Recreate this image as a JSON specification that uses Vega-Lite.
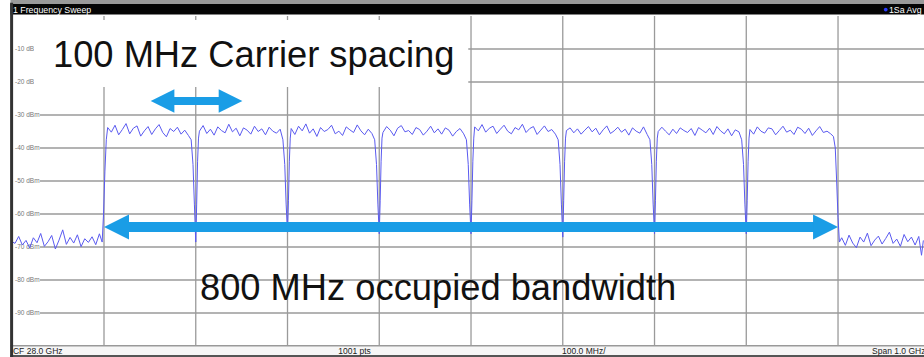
{
  "$schema": "https://vega.github.io/schema/vega-lite/v6.json",
  "autosize": {"type": "none"},
  "padding": 0,
  "width": 924,
  "height": 357,
  "background": "white",
  "config": {"view": {"stroke": null}},
  "datasets": {
    "trace": [
      {"f":27500,"p":-68.4},{"f":27503,"p":-68.9},{"f":27507,"p":-66.8},{"f":27511,"p":-69.4},{"f":27515,"p":-68.0},{"f":27519,"p":-70.3},{"f":27523,"p":-67.2},{"f":27527,"p":-68.7},{"f":27531,"p":-65.9},{"f":27535,"p":-69.8},{"f":27539,"p":-68.4},{"f":27543,"p":-66.5},{"f":27547,"p":-70.6},{"f":27551,"p":-67.9},{"f":27555,"p":-64.8},{"f":27559,"p":-69.2},{"f":27563,"p":-67.1},{"f":27567,"p":-68.8},{"f":27571,"p":-66.3},{"f":27575,"p":-69.9},{"f":27579,"p":-67.5},{"f":27583,"p":-68.6},{"f":27587,"p":-66.9},{"f":27591,"p":-69.3},{"f":27595,"p":-66.0},{"f":27598,"p":-68.5},{"f":27599.5,"p":-60},{"f":27601,"p":-47},{"f":27602.5,"p":-37.5},
      {"f":27604,"p":-33.8},{"f":27608,"p":-35.2},{"f":27612,"p":-33.1},{"f":27616,"p":-36.0},{"f":27620,"p":-34.4},{"f":27624,"p":-32.6},{"f":27628,"p":-35.7},{"f":27632,"p":-34.0},{"f":27636,"p":-33.3},{"f":27640,"p":-36.4},{"f":27644,"p":-34.8},{"f":27648,"p":-33.5},{"f":27652,"p":-35.9},{"f":27656,"p":-34.2},{"f":27660,"p":-32.9},{"f":27664,"p":-35.3},{"f":27668,"p":-36.6},{"f":27672,"p":-34.1},{"f":27676,"p":-35.0},{"f":27680,"p":-33.7},{"f":27684,"p":-35.8},{"f":27688,"p":-34.6},{"f":27692,"p":-36.2},
      {"f":27695,"p":-37.5},{"f":27697,"p":-45},{"f":27698.5,"p":-57},{"f":27700,"p":-68.5},{"f":27701,"p":-57},{"f":27702,"p":-44},{"f":27703,"p":-37},
      {"f":27704,"p":-34.9},{"f":27708,"p":-33.2},{"f":27712,"p":-35.6},{"f":27716,"p":-34.3},{"f":27720,"p":-36.1},{"f":27724,"p":-33.6},{"f":27728,"p":-34.7},{"f":27732,"p":-35.4},{"f":27736,"p":-32.8},{"f":27740,"p":-35.1},{"f":27744,"p":-34.0},{"f":27748,"p":-36.3},{"f":27752,"p":-33.9},{"f":27756,"p":-34.6},{"f":27760,"p":-35.8},{"f":27764,"p":-33.4},{"f":27768,"p":-35.0},{"f":27772,"p":-34.2},{"f":27776,"p":-36.0},{"f":27780,"p":-33.7},{"f":27784,"p":-34.9},{"f":27788,"p":-35.5},{"f":27792,"p":-34.3},
      {"f":27795,"p":-37.5},{"f":27797,"p":-45},{"f":27798.5,"p":-57},{"f":27800,"p":-65.5},{"f":27801,"p":-56},{"f":27802,"p":-44},{"f":27803,"p":-37},
      {"f":27804,"p":-34.1},{"f":27808,"p":-35.9},{"f":27812,"p":-33.4},{"f":27816,"p":-34.8},{"f":27820,"p":-32.7},{"f":27824,"p":-35.5},{"f":27828,"p":-34.2},{"f":27832,"p":-36.5},{"f":27836,"p":-33.8},{"f":27840,"p":-35.0},{"f":27844,"p":-34.4},{"f":27848,"p":-33.1},{"f":27852,"p":-35.7},{"f":27856,"p":-34.9},{"f":27860,"p":-36.2},{"f":27864,"p":-33.6},{"f":27868,"p":-34.5},{"f":27872,"p":-35.3},{"f":27876,"p":-33.0},{"f":27880,"p":-34.8},{"f":27884,"p":-36.0},{"f":27888,"p":-34.3},{"f":27892,"p":-35.6},
      {"f":27895,"p":-37.5},{"f":27897,"p":-45},{"f":27898.5,"p":-57},{"f":27900,"p":-66},{"f":27901,"p":-56},{"f":27902,"p":-44},{"f":27903,"p":-37},
      {"f":27904,"p":-35.3},{"f":27908,"p":-33.5},{"f":27912,"p":-34.6},{"f":27916,"p":-36.3},{"f":27920,"p":-34.0},{"f":27924,"p":-33.2},{"f":27928,"p":-35.1},{"f":27932,"p":-34.7},{"f":27936,"p":-35.9},{"f":27940,"p":-33.8},{"f":27944,"p":-34.4},{"f":27948,"p":-36.1},{"f":27952,"p":-34.9},{"f":27956,"p":-33.4},{"f":27960,"p":-35.4},{"f":27964,"p":-34.2},{"f":27968,"p":-35.8},{"f":27972,"p":-33.9},{"f":27976,"p":-34.6},{"f":27980,"p":-36.4},{"f":27984,"p":-35.0},{"f":27988,"p":-34.1},{"f":27992,"p":-35.7},
      {"f":27995,"p":-37.5},{"f":27997,"p":-45},{"f":27998.5,"p":-57},{"f":28000,"p":-66},{"f":28001,"p":-56},{"f":28002,"p":-44},{"f":28003,"p":-37},
      {"f":28004,"p":-33.6},{"f":28008,"p":-34.8},{"f":28012,"p":-32.9},{"f":28016,"p":-35.2},{"f":28020,"p":-34.0},{"f":28024,"p":-33.4},{"f":28028,"p":-35.6},{"f":28032,"p":-34.3},{"f":28036,"p":-33.1},{"f":28040,"p":-34.9},{"f":28044,"p":-35.7},{"f":28048,"p":-33.8},{"f":28052,"p":-34.5},{"f":28056,"p":-32.8},{"f":28060,"p":-35.3},{"f":28064,"p":-34.1},{"f":28068,"p":-33.5},{"f":28072,"p":-35.9},{"f":28076,"p":-34.6},{"f":28080,"p":-33.3},{"f":28084,"p":-35.0},{"f":28088,"p":-34.4},{"f":28092,"p":-35.8},
      {"f":28095,"p":-37.5},{"f":28097,"p":-45},{"f":28098.5,"p":-57},{"f":28100,"p":-67},{"f":28101,"p":-56},{"f":28102,"p":-44},{"f":28103,"p":-37},
      {"f":28104,"p":-34.7},{"f":28108,"p":-33.9},{"f":28112,"p":-35.4},{"f":28116,"p":-34.2},{"f":28120,"p":-35.8},{"f":28124,"p":-34.6},{"f":28128,"p":-33.5},{"f":28132,"p":-35.1},{"f":28136,"p":-34.0},{"f":28140,"p":-36.0},{"f":28144,"p":-34.5},{"f":28148,"p":-33.3},{"f":28152,"p":-35.6},{"f":28156,"p":-34.8},{"f":28160,"p":-33.7},{"f":28164,"p":-35.2},{"f":28168,"p":-34.3},{"f":28172,"p":-36.1},{"f":28176,"p":-33.9},{"f":28180,"p":-34.9},{"f":28184,"p":-35.5},{"f":28188,"p":-33.6},{"f":28192,"p":-35.9},
      {"f":28195,"p":-37.5},{"f":28197,"p":-45},{"f":28198.5,"p":-57},{"f":28200,"p":-66},{"f":28201,"p":-56},{"f":28202,"p":-44},{"f":28203,"p":-37},
      {"f":28204,"p":-35.0},{"f":28208,"p":-33.7},{"f":28212,"p":-34.9},{"f":28216,"p":-36.0},{"f":28220,"p":-34.3},{"f":28224,"p":-35.6},{"f":28228,"p":-33.9},{"f":28232,"p":-34.7},{"f":28236,"p":-35.3},{"f":28240,"p":-34.1},{"f":28244,"p":-36.2},{"f":28248,"p":-33.8},{"f":28252,"p":-34.6},{"f":28256,"p":-35.4},{"f":28260,"p":-34.0},{"f":28264,"p":-35.9},{"f":28268,"p":-33.5},{"f":28272,"p":-34.8},{"f":28276,"p":-35.7},{"f":28280,"p":-34.2},{"f":28284,"p":-36.3},{"f":28288,"p":-34.5},{"f":28292,"p":-35.1},
      {"f":28295,"p":-37.5},{"f":28297,"p":-45},{"f":28298.5,"p":-57},{"f":28300,"p":-66},{"f":28301,"p":-56},{"f":28302,"p":-44},{"f":28303,"p":-37},
      {"f":28304,"p":-34.4},{"f":28308,"p":-35.8},{"f":28312,"p":-33.6},{"f":28316,"p":-34.9},{"f":28320,"p":-35.5},{"f":28324,"p":-33.9},{"f":28328,"p":-34.2},{"f":28332,"p":-36.0},{"f":28336,"p":-34.7},{"f":28340,"p":-33.4},{"f":28344,"p":-35.2},{"f":28348,"p":-34.6},{"f":28352,"p":-35.9},{"f":28356,"p":-33.7},{"f":28360,"p":-34.3},{"f":28364,"p":-35.6},{"f":28368,"p":-34.0},{"f":28372,"p":-36.2},{"f":28376,"p":-34.8},{"f":28380,"p":-33.5},{"f":28384,"p":-35.3},{"f":28388,"p":-34.9},{"f":28392,"p":-35.7},
      {"f":28395,"p":-36.5},{"f":28397,"p":-40},{"f":28398.5,"p":-50},{"f":28400,"p":-61},{"f":28401.5,"p":-68.5},
      {"f":28404,"p":-67.2},{"f":28408,"p":-69.5},{"f":28412,"p":-66.4},{"f":28416,"p":-68.8},{"f":28420,"p":-70.2},{"f":28424,"p":-67.0},{"f":28428,"p":-68.5},{"f":28432,"p":-65.8},{"f":28436,"p":-69.6},{"f":28440,"p":-67.9},{"f":28444,"p":-66.7},{"f":28448,"p":-69.1},{"f":28452,"p":-67.4},{"f":28456,"p":-65.5},{"f":28460,"p":-68.9},{"f":28464,"p":-67.6},{"f":28468,"p":-69.8},{"f":28472,"p":-66.2},{"f":28476,"p":-68.4},{"f":28480,"p":-67.0},{"f":28484,"p":-69.4},{"f":28488,"p":-66.8},{"f":28491,"p":-72.5},{"f":28493,"p":-68.0}
    ],
    "vgrid": [
      {"f":27600,"p":-100,"p2":0},{"f":27700,"p":-100,"p2":0},{"f":27800,"p":-100,"p2":0},{"f":27900,"p":-100,"p2":0},{"f":28000,"p":-100,"p2":0},{"f":28100,"p":-100,"p2":0},{"f":28200,"p":-100,"p2":0},{"f":28300,"p":-100,"p2":0},{"f":28400,"p":-100,"p2":0}
    ],
    "hgrid": [
      {"p":-10,"f":27530.2,"f2":28493.7},{"p":-20,"f":27530.2,"f2":28493.7},{"p":-30,"f":27530.2,"f2":28493.7},{"p":-40,"f":27530.2,"f2":28493.7},{"p":-50,"f":27530.2,"f2":28493.7},{"p":-60,"f":27530.2,"f2":28493.7},{"p":-70,"f":27530.2,"f2":28493.7},{"p":-80,"f":27530.2,"f2":28493.7},{"p":-90,"f":27530.2,"f2":28493.7}
    ],
    "ylab": [
      {"f":27503,"p":-10,"t":"-10 dBm"},{"f":27503,"p":-20,"t":"-20 dBm"},{"f":27503,"p":-30,"t":"-30 dBm"},{"f":27503,"p":-40,"t":"-40 dBm"},{"f":27503,"p":-50,"t":"-50 dBm"},{"f":27503,"p":-60,"t":"-60 dBm"},{"f":27503,"p":-70,"t":"-70 dBm"},{"f":27503,"p":-80,"t":"-80 dBm"},{"f":27503,"p":-90,"t":"-90 dBm"}
    ],
    "box": [{"f":27523.7,"f2":27997,"p":-1.2,"p2":-21.5}],
    "bigtext": [
      {"f":27544.4,"p":-15.45,"t":"100 MHz Carrier spacing"},
      {"f":27704.6,"p":-86.2,"t":"800 MHz occupied bandwidth"}
    ],
    "shaftS": [{"f":27663.8,"f2":27737.9,"p":-25.76}],
    "shaftB": [{"f":27613.6,"f2":28386.4,"p":-63.94}],
    "headS": [{"f":27663.8,"p":-25.76,"dir":"left"},{"f":27737.9,"p":-25.76,"dir":"right"}],
    "headB": [{"f":27613.6,"p":-63.94,"dir":"left"},{"f":28386.4,"p":-63.94,"dir":"right"}],
    "topgray": [{"f":27498,"f2":28493.7,"p":4.85,"p2":3.64}],
    "topblack": [{"f":27498,"f2":28493.7,"p":3.64,"p2":0.45}],
    "hdr": [{"f":27500.8,"p":1.97,"t":"1 Frequency Sweep"},{"f":28455.5,"p":1.97,"t":"1Sa Avg"}],
    "dot": [{"f":28452.0,"p":1.97}],
    "foot": [{"f":27498,"f2":28493.7,"p":-99.7,"p2":-103.33}],
    "footline1": [{"f":27498,"f2":28493.7,"p":-99.9}],
    "footline2": [{"f":27498,"f2":28493.7,"p":-103.0}],
    "ftext": [
      {"f":27500.8,"p":-101.5,"t":"CF 28.0 GHz"},
      {"f":27855.3,"p":-101.5,"t":"1001 pts"},
      {"f":28099.2,"p":-101.5,"t":"100.0 MHz/"},
      {"f":28437.1,"p":-101.5,"t":"Span 1.0 GHz"}
    ],
    "border": [{"f":27499.3,"p":4.0,"p2":-103.33}]
  },
  "encoding": {
    "x": {"field": "f", "type": "quantitative", "scale": {"domain": [27486.65, 28493.7], "nice": false, "zero": false}, "axis": null},
    "y": {"field": "p", "type": "quantitative", "scale": {"domain": [-103.33, 4.85], "nice": false, "zero": false}, "axis": null}
  },
  "layer": [
    {"data": {"name": "hgrid"}, "mark": {"type": "rule", "color": "#9a9a9a", "strokeWidth": 1.3}, "encoding": {"x2": {"field": "f2"}}},
    {"data": {"name": "vgrid"}, "mark": {"type": "rule", "color": "#9a9a9a", "strokeWidth": 1.3}, "encoding": {"y2": {"field": "p2"}}},
    {"data": {"name": "ylab"}, "mark": {"type": "text", "align": "left", "baseline": "middle", "fontSize": 6.5, "font": "Liberation Sans", "color": "#777777"}, "encoding": {"text": {"field": "t"}}},
    {"data": {"name": "trace"}, "mark": {"type": "line", "color": "#5a5af0", "strokeWidth": 1, "clip": true}, "encoding": {}},
    {"data": {"name": "box"}, "mark": {"type": "rect", "color": "white"}, "encoding": {"x2": {"field": "f2"}, "y2": {"field": "p2"}}},
    {"data": {"name": "bigtext"}, "mark": {"type": "text", "align": "left", "baseline": "alphabetic", "fontSize": 36.3, "font": "Liberation Sans", "color": "#111111"}, "encoding": {"text": {"field": "t"}}},
    {"data": {"name": "shaftS"}, "mark": {"type": "rule", "color": "#1a9de6", "strokeWidth": 8}, "encoding": {"x2": {"field": "f2"}}},
    {"data": {"name": "shaftB"}, "mark": {"type": "rule", "color": "#1a9de6", "strokeWidth": 10}, "encoding": {"x2": {"field": "f2"}}},
    {"data": {"name": "headS"}, "mark": {"type": "point", "filled": true, "opacity": 1, "color": "#1a9de6", "size": 560, "strokeWidth": 0}, "encoding": {"shape": {"field": "dir", "type": "nominal", "scale": {"domain": ["left", "right"], "range": ["M-1,0L1,-1L1,1Z", "M1,0L-1,-1L-1,1Z"]}, "legend": null}}},
    {"data": {"name": "headB"}, "mark": {"type": "point", "filled": true, "opacity": 1, "color": "#1a9de6", "size": 625, "strokeWidth": 0}, "encoding": {"shape": {"field": "dir", "type": "nominal", "scale": {"domain": ["left", "right"], "range": ["M-1,0L1,-1L1,1Z", "M1,0L-1,-1L-1,1Z"]}, "legend": null}}},
    {"data": {"name": "topgray"}, "mark": {"type": "rect", "color": "#9a9a9a"}, "encoding": {"x2": {"field": "f2"}, "y2": {"field": "p2"}}},
    {"data": {"name": "topblack"}, "mark": {"type": "rect", "color": "#050505"}, "encoding": {"x2": {"field": "f2"}, "y2": {"field": "p2"}}},
    {"data": {"name": "hdr"}, "mark": {"type": "text", "align": "left", "baseline": "middle", "fontSize": 8.8, "font": "Liberation Sans", "color": "white"}, "encoding": {"text": {"field": "t"}}},
    {"data": {"name": "dot"}, "mark": {"type": "point", "filled": true, "opacity": 1, "shape": "circle", "size": 14, "color": "#2a3cff"}, "encoding": {}},
    {"data": {"name": "foot"}, "mark": {"type": "rect", "color": "#f6f6f6"}, "encoding": {"x2": {"field": "f2"}, "y2": {"field": "p2"}}},
    {"data": {"name": "footline1"}, "mark": {"type": "rule", "color": "#999999", "strokeWidth": 1.5}, "encoding": {"x2": {"field": "f2"}}},
    {"data": {"name": "footline2"}, "mark": {"type": "rule", "color": "#555555", "strokeWidth": 2}, "encoding": {"x2": {"field": "f2"}}},
    {"data": {"name": "ftext"}, "mark": {"type": "text", "align": "left", "baseline": "middle", "fontSize": 8.5, "font": "Liberation Sans", "color": "#222222"}, "encoding": {"text": {"field": "t"}}},
    {"data": {"name": "border"}, "mark": {"type": "rule", "color": "#333333", "strokeWidth": 3}, "encoding": {"y2": {"field": "p2"}}}
  ]
}
